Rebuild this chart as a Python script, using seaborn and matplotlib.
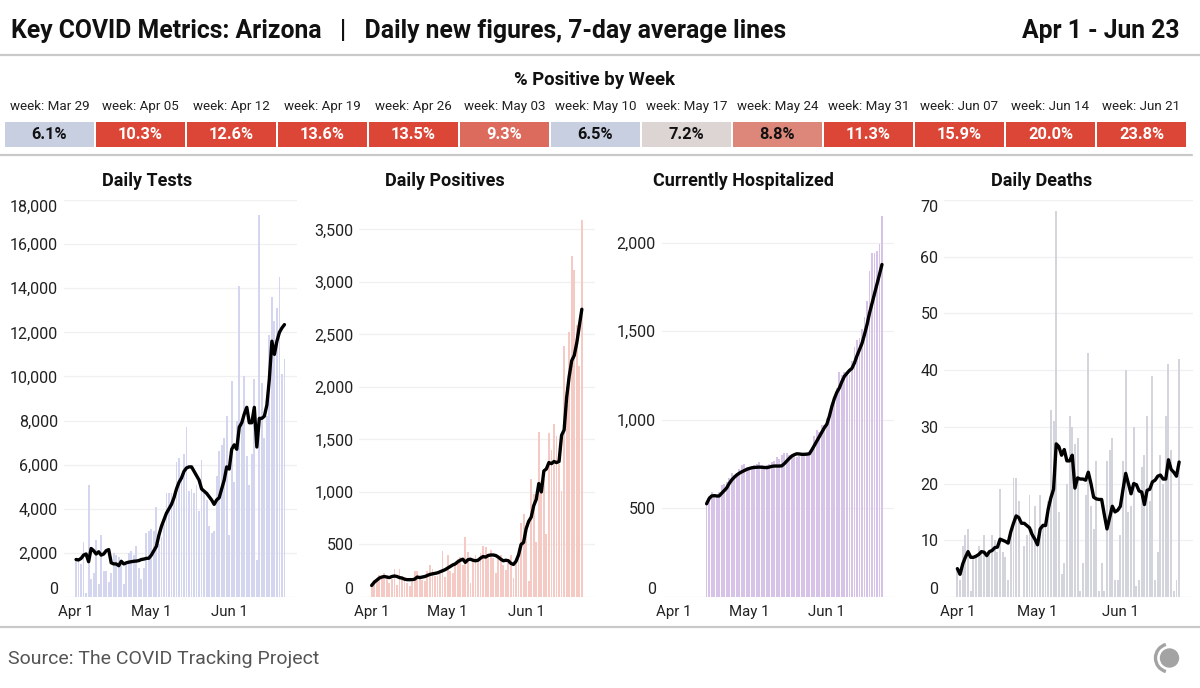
import numpy as np
import pandas as pd
import matplotlib
matplotlib.use("Agg")
import matplotlib.pyplot as plt
from matplotlib.colors import LinearSegmentedColormap
from matplotlib.lines import Line2D
from matplotlib.patches import Circle, Arc
from matplotlib.ticker import FuncFormatter
import seaborn as sns

# ---- data ----
start = pd.Timestamp("2020-04-01")
dates = pd.date_range("2020-04-01", "2020-06-23")
hosp_dates = pd.date_range("2020-04-14", "2020-06-23")

week_labels = ["Mar 29", "Apr 05", "Apr 12", "Apr 19", "Apr 26", "May 03", "May 10",
               "May 17", "May 24", "May 31", "Jun 07", "Jun 14", "Jun 21"]
pct_positive = [6.1, 10.3, 12.6, 13.6, 13.5, 9.3, 6.5, 7.2, 8.8, 11.3, 15.9, 20.0, 23.8]

tests_daily = [1700, 1650, 1500, 2500, 200, 5100, 800, 1100, 2600, 600,
               2800, 1200, 1200, 700, 1100, 2000, 1900, 1800, 1500, 600,
               1500, 2000, 2100, 1900, 2300, 1300, 800, 1300, 2900, 3000,
               3100, 3000, 4100, 2400, 2700, 3300, 4700, 4700, 4700, 4400,
               6100, 6300, 5300, 6500, 7700, 4800, 4900, 4700, 5100, 3900,
               6200, 4700, 4400, 3200, 2900, 3000, 5500, 6600, 6900, 7200,
               8200, 2800, 9800, 5200, 8000, 14100, 7800, 10000, 6400, 5100,
               6500, 9900, 1700, 17300, 9700, 7200, 8200, 11900, 13600, 12500,
               13100, 14500, 10100, 10800]
tests_avg = [1700, 1680, 1750, 1900, 1950, 1600, 2200, 2100, 1950, 2050,
             1900, 1950, 2100, 2150, 1550, 1500, 1500, 1420, 1620, 1500,
             1550, 1580, 1600, 1620, 1630, 1650, 1700, 1720, 1750, 1760,
             1900, 2100, 2300, 2800, 3200, 3500, 3800, 4000, 4200, 4500,
             4900, 5200, 5400, 5700, 5850, 5900, 5900, 5700, 5500, 5300,
             4900, 4800, 4700, 4550, 4400, 4200, 4400, 4500, 4900, 5300,
             5900, 5800, 6700, 6900, 6700, 7700, 7900, 8300, 8600, 7900,
             7900, 8600, 6800, 8100, 8100, 8200, 8700, 9900, 11600, 11000,
             11600, 12000, 12200, 12350]

pos_daily = [125, 160, 150, 210, 200, 230, 190, 130, 170, 270,
             110, 265, 200, 180, 130, 100, 140, 250, 250, 175,
             160, 150, 250, 300, 270, 200, 200, 220, 440, 190,
             400, 250, 230, 300, 360, 380, 300, 570, 430, 130,
             360, 400, 340, 420, 490, 480, 400, 450, 370, 230,
             370, 400, 300, 260, 320, 400, 180, 320, 470, 700,
             790, 680, 150, 1120, 980, 520, 1570, 1100, 1120, 600,
             1560, 1400, 1650, 1530, 1270, 1010, 2390, 1830, 2520, 3250,
             3110, 2590, 2200, 3590]
pos_avg = [110, 140, 160, 180, 190, 195, 190, 185, 195, 200,
           195, 185, 180, 170, 165, 165, 165, 170, 190, 185,
           190, 195, 205, 215, 220, 225, 230, 240, 250, 260,
           275, 290, 305, 315, 335, 350, 360, 330, 355, 360,
           350, 345, 350, 370, 385, 380, 395, 400, 400, 395,
           380, 360, 345, 350, 345, 320, 310, 340, 400, 500,
           520, 650, 720, 760, 870, 930, 1080, 1000, 1200, 1220,
           1280, 1270, 1290, 1280, 1290, 1540, 1590, 1900, 2100, 2250,
           2300, 2420, 2580, 2740]

hosp_daily = [540, 570, 590, 580, 575, 590, 630, 640, 650, 670,
              700, 690, 700, 720, 745, 750, 735, 730, 740, 745,
              750, 760, 745, 740, 745, 750, 760, 770, 790, 780,
              800, 815, 810, 800, 805, 800, 790, 795, 810, 800,
              805, 800, 830, 910, 940, 930, 970, 970, 1010, 1000,
              1090, 1100, 1180, 1270, 1250, 1270, 1260, 1250, 1330, 1410,
              1450, 1460, 1510, 1580, 1670, 1840, 1940, 1940, 1950, 1990,
              2150]
hosp_avg = [526, 555, 570, 572, 570, 570, 585, 600, 615, 640,
            660, 675, 688, 698, 706, 713, 720, 725, 729, 731,
            732, 733, 732, 731, 730, 733, 737, 739, 739, 739,
            740, 752, 767, 782, 795, 803, 808, 807, 805, 805,
            806, 808, 830, 855, 880, 905, 930, 955, 975, 1020,
            1075, 1120, 1155, 1180, 1215, 1245, 1262, 1278, 1290, 1320,
            1360, 1395, 1430, 1480, 1535, 1600, 1655, 1710, 1765, 1820,
            1876]

deaths_daily = [5, 3, 9, 11, 12, 1, 7, 7, 9, 8,
                11, 7, 8, 11, 10, 8, 19, 8, 7, 3,
                12, 21, 21, 17, 0, 9, 11, 18, 12, 16,
                11, 18, 13, 14, 17, 33, 31, 68, 15, 4,
                6, 20, 32, 30, 27, 28, 1, 6, 18, 43,
                16, 12, 24, 1, 6, 1, 24, 26, 28, 3,
                3, 11, 24, 40, 15, 16, 30, 2, 3, 23,
                25, 32, 17, 39, 3, 8, 25, 20, 32, 41,
                26, 1, 3, 42]
deaths_avg = [5.0, 4.0, 5.8, 7.0, 8.0, 7.0, 7.0, 7.2, 7.5, 8.0,
              7.9, 7.3, 8.0, 8.2, 8.7, 8.8, 10.2, 10.0, 9.8, 9.5,
              11.5, 13.0, 14.3, 14.0, 13.0, 13.0, 12.6, 12.2, 11.0, 10.2,
              9.2, 12.0, 12.6, 12.6, 15.5, 17.5, 19.0, 27.0, 26.5, 25.0,
              26.0, 24.0, 24.0, 25.0, 19.2, 21.0, 20.8, 20.8, 20.6, 22.0,
              20.0, 17.6, 17.3, 17.2, 17.2, 14.5, 12.0, 14.0, 16.0, 15.0,
              15.3, 16.0, 19.0, 21.8, 20.0, 18.2, 20.0, 19.8, 18.7, 18.5,
              16.3, 18.8, 19.0, 20.3, 20.6, 21.3, 21.5, 20.8, 20.8, 24.2,
              22.5, 22.0, 21.3, 23.8]

# ---- style ----
sns.set_theme(style="white")
plt.rcParams["font.family"] = ["Roboto", "DejaVu Sans"]
W, H = 1200, 688

fig = plt.figure(figsize=(12, 6.88), dpi=100)


def px(x, y):
    return x / W, 1 - y / H


def hline(y, x0=0, x1=W):
    fig.add_artist(Line2D([x0 / W, x1 / W], [1 - y / H, 1 - y / H],
                          color="#c9c9c9", lw=1.6, transform=fig.transFigure))


# header
fig.text(*px(11, 31), "Key COVID Metrics: Arizona   |   Daily new figures, 7-day average lines",
         fontsize=17.8, fontweight="bold", va="center", ha="left", color="#111111")
fig.text(*px(1180, 31), "Apr 1 - Jun 23", fontsize=17.8, fontweight="bold",
         va="center", ha="right", color="#111111")
hline(55)

# % positive by week
fig.text(*px(594, 80), "% Positive by Week", fontsize=13.3, fontweight="bold",
         ha="center", va="center", color="#111111")
cmap = LinearSegmentedColormap.from_list(
    "pos", [(0.0, "#c8cfe1"), (0.125, "#c8cfe1"), (0.3, "#ddd4d4"),
            (0.7, "#dc877a"), (1.0, "#dc4636")])
hm = pd.DataFrame([pct_positive], columns=["week: " + w for w in week_labels])
annot = np.array([[f"{v:.1f}%" for v in pct_positive]])
ax_hm = fig.add_axes([4 / W, 1 - 148 / H, 1183 / W, 27 / H])
sns.heatmap(hm, ax=ax_hm, cmap=cmap, vmin=6, vmax=10, cbar=False,
            annot=annot, fmt="", linewidths=1.2, linecolor="white",
            annot_kws={"fontsize": 11.8, "fontweight": "bold"}, yticklabels=False)
for t, v in zip(ax_hm.texts, pct_positive):
    t.set_color("#111111" if v < 9 else "white")
ax_hm.xaxis.tick_top()
ax_hm.tick_params(axis="x", length=0, pad=6, labelsize=9.6, labelcolor="#222222")
ax_hm.set_xlabel("")
ax_hm.set_ylabel("")
hline(155, 0, 1192)

# ---- small multiples ----
panels = [
    ("Daily Tests", dates, tests_daily, tests_avg, "#d4d6ef", 18000, 2000, (63.5, 297), 147),
    ("Daily Positives", dates, pos_daily, pos_avg, "#f6cac4", 3780, 500, (359, 594.5), 445),
    ("Currently Hospitalized", hosp_dates, hosp_daily, hosp_avg, "#d6c3e7", 2240, 500, (661.5, 894.5), 743),
    ("Daily Deaths", dates, deaths_daily, deaths_avg, "#d3d4dc", 70, 10, (944, 1192.5), 1042),
]
tick_dates = [pd.Timestamp("2020-04-01"), pd.Timestamp("2020-05-01"), pd.Timestamp("2020-06-01")]
tick_pos = [(d - start).days for d in tick_dates]

for title, dts, daily, avg, color, ymax, ystep, (x0, x1), tx in panels:
    ax = fig.add_axes([x0 / W, 1 - 597 / H, (x1 - x0) / W, (597 - 200) / H])
    day = np.array([(d - start).days for d in dts])
    sns.barplot(x=day, y=daily, ax=ax, native_scale=True, color=color,
                saturation=1, width=0.72, errorbar=None, linewidth=0)
    sns.lineplot(x=day, y=avg, ax=ax, color="black", lw=2.4)
    ax.set_xlim(-5, 88)
    ax.set_ylim(0, ymax)
    ax.set_yticks(np.arange(0, ymax + 1, ystep))
    ax.yaxis.set_major_formatter(FuncFormatter(lambda v, p: f"{v:,.0f}"))
    ax.set_xticks(tick_pos)
    ax.set_xticklabels(["Apr 1", "May 1", "Jun 1"])
    ax.grid(axis="y", color="#f0f0f0", lw=1)
    ax.set_axisbelow(True)
    for s in ax.spines.values():
        s.set_visible(False)
    ax.tick_params(axis="y", length=0, labelsize=11.5, labelcolor="#222222", pad=4)
    ax.tick_params(axis="x", length=0, labelsize=10.8, labelcolor="#222222", pad=6)
    # keep edge labels inside the plot box
    for lab, val in zip(ax.get_yticklabels(), ax.get_yticks()):
        if val == 0:
            lab.set_va("bottom")
        elif val == ymax:
            lab.set_va("top")
    fig.text(tx / W, 1 - 181 / H, title, fontsize=13, fontweight="bold",
             ha="center", va="center", color="#111111")

# footer
hline(627)
fig.text(*px(8, 659), "Source: The COVID Tracking Project", fontsize=14,
         color="#555555", ha="left", va="center")
ax_logo = fig.add_axes([1148 / W, 1 - 678 / H, 40 / W, 40 / H])
ax_logo.set_xlim(-20, 20)
ax_logo.set_ylim(-20, 20)
ax_logo.set_aspect("equal")
ax_logo.axis("off")
ax_logo.add_patch(Circle((1.5, 0), 9, color="#a3a3a3"))
ax_logo.add_patch(Arc((1.5, 0), 28, 28, theta1=105, theta2=255, color="#a3a3a3", lw=2.4))

fig.savefig("out.png", dpi=100)
